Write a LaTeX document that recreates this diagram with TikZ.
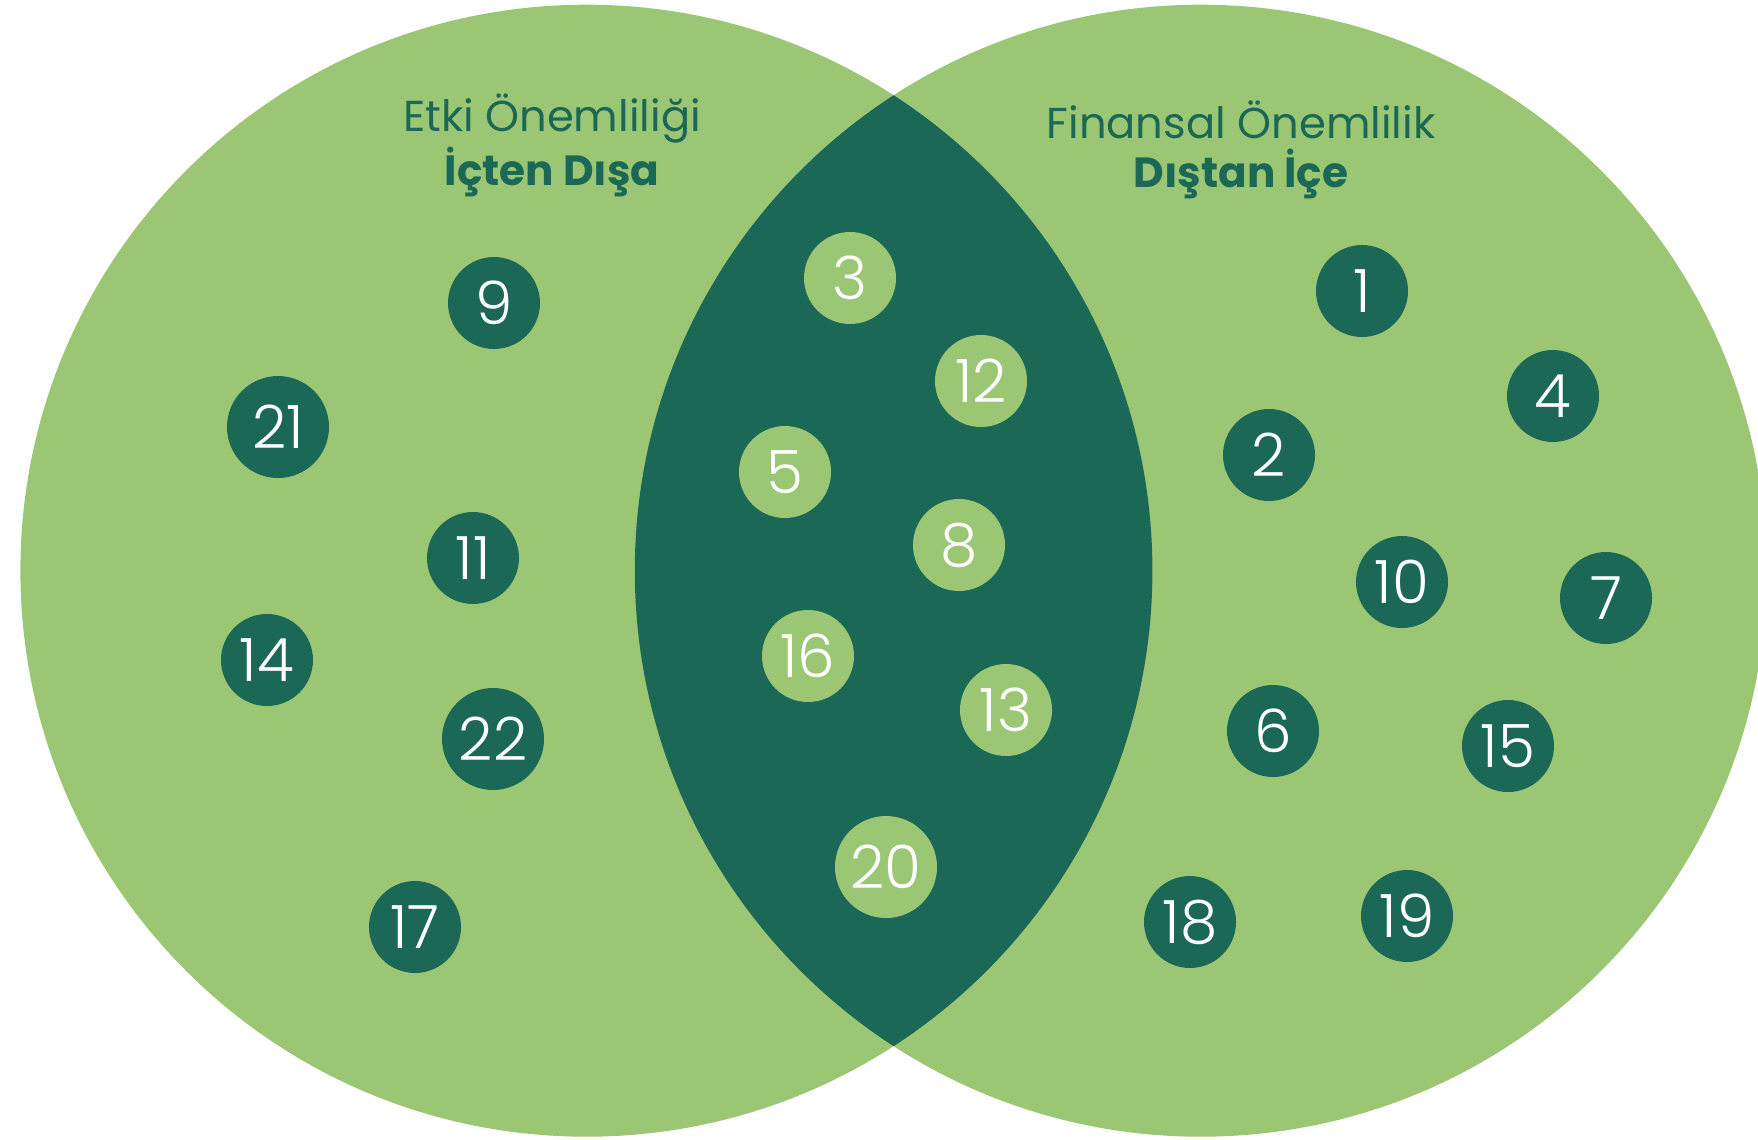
\documentclass[tikz,border=0pt]{standalone}
\usepackage{fontspec}
\setmainfont{Poppins}
\newfontfamily\numfont{Poppins Light}
\usepackage{tikz}
\definecolor{leaf}{RGB}{155,199,116}
\definecolor{forest}{RGB}{27,104,86}
\tikzstyle{topic} = [circle, fill=forest, text=white, inner sep=0pt,
      minimum size=0.92cm, font=\numfont\fontsize{17}{17}\selectfont]
\tikzstyle{shared} = [topic, fill=leaf]
\tikzstyle{wide} = [minimum size=1.02cm]
\tikzstyle{title} = [text=forest, align=center, font=\fontsize{12.3}{12.3}\selectfont]

\begin{document}
\begin{tikzpicture}
	  \useasboundingbox (0,0) rectangle (17.58,11.39);
	  \clip (0,0) rectangle (17.58,11.39);
	  % Sets
	  \fill[leaf] (5.864,5.683) circle (5.66);
	  \fill[leaf] (12.008,5.683) circle (5.66);
	  \begin{scope}
	    \clip (5.864,5.683) circle (5.66);
	    \fill[forest] (12.008,5.683) circle (5.66);
	  \end{scope}
	  % Titles
	  \node [title] (impact) at (5.52,10.21) {Etki Önemliliği};
	  \node [title, font=\fontsize{12}{12}\selectfont\bfseries] (inout) at (5.52,9.67) {İçten Dışa};
	  \node [title] (finance) at (12.41,10.19) {Finansal Önemlilik};
	  \node [title, font=\fontsize{12}{12}\selectfont\bfseries] (outin) at (12.41,9.65) {Dıştan İçe};
	  % Etki
	  \node [topic] (t9) at (4.94,8.36) {9};
	  \node [topic, wide] (t21) at (2.78,7.12) {21};
	  \node [topic] (t11) at (4.73,5.81) {11};
	  \node [topic] (t14) at (2.67,4.79) {14};
	  \node [topic, wide] (t22) at (4.93,4.00) {22};
	  \node [topic] (t17) at (4.15,2.12) {17};
	  % Ortak
	  \node [shared] (t3) at (8.50,8.61) {3};
	  \node [shared] (t12) at (9.81,7.58) {12};
	  \node [shared] (t5) at (7.85,6.67) {5};
	  \node [shared] (t8) at (9.59,5.94) {8};
	  \node [shared] (t16) at (8.08,4.83) {16};
	  \node [shared] (t13) at (10.06,4.29) {13};
	  \node [shared, wide] (t20) at (8.86,2.72) {20};
	  % Finansal
	  \node [topic] (t1) at (13.62,8.48) {1};
	  \node [topic] (t4) at (15.53,7.43) {4};
	  \node [topic] (t2) at (12.69,6.84) {2};
	  \node [topic] (t10) at (14.02,5.57) {10};
	  \node [topic] (t7) at (16.06,5.41) {7};
	  \node [topic] (t6) at (12.73,4.08) {6};
	  \node [topic] (t15) at (15.08,3.93) {15};
	  \node [topic] (t18) at (11.90,2.17) {18};
	  \node [topic] (t19) at (14.07,2.23) {19};
\end{tikzpicture}
\end{document}
